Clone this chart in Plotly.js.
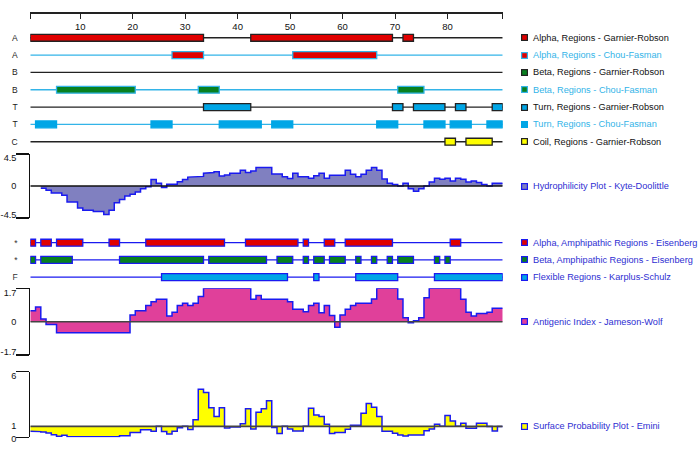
<!DOCTYPE html>
<html><head><meta charset="utf-8">
<script src="https://cdn.plot.ly/plotly-3.0.1.min.js"></script>
<style>html,body{margin:0;padding:0;background:#fff}#chart{width:698px;height:449px}</style>
</head><body><div id="chart"></div>
<script>
// ---------- data ----------
const seqLength = 90;
const rulerTicks = [10, 20, 30, 40, 50, 60, 70, 80];

const trackLabels = ['A', 'A', 'B', 'B', 'T', 'T', 'C'];
const trackNames = [
  'Alpha, Regions - Garnier-Robson',
  'Alpha, Regions - Chou-Fasman',
  'Beta, Regions - Garnier-Robson',
  'Beta, Regions - Chou-Fasman',
  'Turn, Regions - Garnier-Robson',
  'Turn, Regions - Chou-Fasman',
  'Coil, Regions - Garnier-Robson'
];
// [first residue, last residue]
const alphaGR = [[1, 33], [43, 69], [72, 73]];
const alphaCF = [[28, 33], [51, 66]];
const betaGR = [];
const betaCF = [[6, 20], [33, 36], [71, 75]];
const turnGR = [[34, 42], [70, 71], [74, 79], [82, 83], [89, 90]];
const turnCF = [[2, 5], [24, 27], [37, 44], [47, 50], [67, 70], [76, 79], [81, 84], [88, 90]];
const coilGR = [[80, 81], [84, 88]];

const amphiLabels = ['*', '*', 'F'];
const amphiNames = [
  'Alpha, Amphipathic Regions - Eisenberg',
  'Beta, Amphipathic Regions - Eisenberg',
  'Flexible Regions - Karplus-Schulz'
];
const alphaAmphi = [[1, 1], [3, 4], [6, 10], [16, 17], [23, 37], [42, 51], [53, 53], [57, 58], [61, 69], [81, 82]];
const betaAmphi = [[1, 1], [3, 8], [18, 33], [35, 45], [48, 50], [53, 53], [55, 56], [58, 60], [63, 63], [66, 66], [69, 69], [71, 73], [78, 78], [80, 80]];
const flexible = [[26, 49], [55, 55], [63, 70], [78, 90]];

const hydroName = 'Hydrophilicity Plot - Kyte-Doolittle';
const hydroTicks = [-4.5, 0, 4.5];
const hydrophilicity = [null, null, -0.3, -0.6, -1.0, -1.0, -1.3, -2.25, -2.25, -3.1,
  -3.4, -3.4, -3.6, -3.6, -4.0, -3.4, -2.35, -1.9, -1.4, -1.15,
  -0.85, -0.4, -0.1, 0.9, 0.4, -0.2, 0.25, 0.25, 0.6, 0.9,
  1.25, 1.25, 1.35, 1.8, 1.9, 2.0, 1.4, 1.55, 1.8, 1.8,
  2.2, 1.9, 2.1, 2.6, 2.6, 2.6, 1.7, 1.7, 1.3, 1.05,
  1.8, 1.3, 1.3, 1.1, 1.45, 1.8, 1.1, 1.5, 1.5, 1.5,
  2.2, 1.65, 1.3, 1.65, 2.2, 2.6, 2.2, 1.0, 0.4, 0.2,
  0, 0.4, -0.4, -0.75, -0.4, 0, 0.55, 1.1, 0.95, 1.1,
  0.7, 1.1, 0.95, 0.55, 0.7, 0.5, 0.2, 0, 0.4, 0.4];

const antigenName = 'Antigenic Index - Jameson-Wolf';
const antigenTicks = [-1.7, 0, 1.7];
const antigenic = [0.55, 0.75, 0.14, -0.14, -0.14, -0.56, -0.56, -0.56, -0.56, -0.56,
  -0.56, -0.56, -0.56, -0.56, -0.56, -0.56, -0.56, -0.56, -0.56, 0.34,
  0.55, 0.55, 0.82, 1.02, 1.14, 1.14, 0.29, 0.48, 0.82, 0.94,
  0.82, 0.94, 1.28, 1.7, 1.7, 1.7, 1.7, 1.7, 1.7, 1.7,
  1.7, 1.7, 1.14, 1.33, 1.14, 1.14, 1.14, 1.14, 1.14, 1.02,
  0.63, 0.63, 0.51, 0.82, 0.94, 0.46, 0.82, 0.31, -0.29, 0.34,
  0.63, 0.82, 0.94, 0.94, 0.94, 1.16, 1.7, 1.7, 1.7, 1.7,
  1.16, 0.2, -0.05, 0.05, 0.2, 1.22, 1.7, 1.7, 1.7, 1.7,
  1.7, 1.7, 1.14, 0.48, 0.29, 0.41, 0.41, 0.48, 0.68, 0.68];

const surfaceName = 'Surface Probability Plot - Emini';
const surfaceTicks = [0, 1, 6];
const surfaceBase = 1;
const surface = [0.55, 0.52, 0.48, 0.4, 0.24, 0.1, 0.18, 0.05, 0.05, 0.05,
  0.05, 0.05, 0.05, 0.05, 0.05, 0.05, 0.05, 0.15, 0.15, 0.45,
  0.45, 0.68, 0.68, 0.55, 1.0, 0.52, 0.3, 0.55, 0.88, 1.0,
  0.72, 1.6, 4.4, 4.1, 2.7, 1.9, 2.7, 0.85, 0.95, 0.95,
  1.25, 2.6, 0.75, 2.3, 2.6, 3.35, 0.9, 0.35, 1.0, 0.75,
  0.58, 0.58, 1.0, 2.65, 2.05, 1.9, 1.2, 0.35, 0.45, 0.45,
  0.73, 1.1, 1.1, 2.2, 3.1, 2.75, 1.9, 0.55, 0.55, 0.37,
  0.2, 0.12, 0.2, 0.2, 0.2, 0.6, 0.75, 1.2, 1.0, 2.0,
  1.5, 1.0, 1.28, 0.82, 0.82, 1.28, 1.28, 0.98, 0.58, 0.98];

// ---------- styles ----------
const FONT = 'Liberation Sans, Arial, sans-serif';
const RED = '#E00000', GREEN = '#08801F', CYAN = '#00A6E6', YEL = '#FFFF00';
const LBLUE = '#33B4E8', BLK = '#222222', BLUE = '#1A1AF0', TXTBLUE = '#2E2ED2';
const HYD = '#8080C0', ANT = '#E0409A';

const xr = [0.5, seqLength + 0.5];
const traces = [];
const shapes = [];
const annotations = [];

function segTrace(segs, row, yaxis, fill, border, bw) {
  return {
    type: 'bar', orientation: 'h', xaxis: 'x', yaxis: yaxis,
    y: segs.map(() => row),
    x: segs.map(s => s[1] - s[0] + 1),
    base: segs.map(s => s[0] - 0.5),
    width: 0.4,
    marker: {color: fill, line: {color: border, width: bw}},
    hoverinfo: 'skip', showlegend: false
  };
}
function stepXY(vals) {
  const xs = [], ys = [];
  vals.forEach((v, i) => {
    if (v === null) return;
    const r = i + 1;
    xs.push(r - 0.5, r + 0.5);
    ys.push(v, v);
  });
  return {xs, ys};
}
function dummy(yaxis, yv) {
  traces.push({type: 'scatter', x: [xr[0]], y: [yv], xaxis: 'x', yaxis: yaxis, mode: 'markers',
    marker: {opacity: 0}, hoverinfo: 'skip', showlegend: false});
}

// dummy trace for ruler subplot
dummy('y', 0);

// ---------- secondary structure tracks ----------
const trackSpec = [
  {segs: alphaGR, fill: RED, border: BLK, line: BLK, txt: '#111'},
  {segs: alphaCF, fill: RED, border: LBLUE, line: LBLUE, txt: LBLUE},
  {segs: betaGR, fill: GREEN, border: BLK, line: BLK, txt: '#111'},
  {segs: betaCF, fill: GREEN, border: LBLUE, line: LBLUE, txt: LBLUE},
  {segs: turnGR, fill: CYAN, border: BLK, line: BLK, txt: '#111'},
  {segs: turnCF, fill: CYAN, border: CYAN, line: LBLUE, txt: LBLUE},
  {segs: coilGR, fill: YEL, border: BLK, line: BLK, txt: '#111'}
];
trackSpec.forEach((t, row) => {
  shapes.push({type: 'line', xref: 'x', yref: 'y2', x0: xr[0], x1: xr[1], y0: row, y1: row,
    line: {color: t.line, width: 1.3}, layer: 'below'});
  if (t.segs.length) traces.push(segTrace(t.segs, row, 'y2', t.fill, t.border, 1.3));
});

// ---------- amphipathic / flexible tracks ----------
const amphiSpec = [
  {segs: alphaAmphi, fill: RED},
  {segs: betaAmphi, fill: GREEN},
  {segs: flexible, fill: CYAN}
];
amphiSpec.forEach((t, row) => {
  shapes.push({type: 'line', xref: 'x', yref: 'y7', x0: xr[0], x1: xr[1], y0: row, y1: row,
    line: {color: BLUE, width: 1.3}, layer: 'below'});
  traces.push(segTrace(t.segs, row, 'y7', t.fill, BLUE, 1.3));
});

// ---------- hydrophilicity ----------
const h = stepXY(hydrophilicity);
traces.push({type: 'scatter', mode: 'lines', x: h.xs, y: h.ys, xaxis: 'x', yaxis: 'y3',
  fill: 'tozeroy', fillcolor: HYD, line: {color: BLUE, width: 1.5}, hoverinfo: 'skip', showlegend: false});
traces.push({type: 'scatter', mode: 'lines', x: xr, y: [0, 0], xaxis: 'x', yaxis: 'y3',
  line: {color: '#111', width: 1.5}, hoverinfo: 'skip', showlegend: false});

// ---------- antigenic ----------
const a = stepXY(antigenic);
traces.push({type: 'scatter', mode: 'lines', x: a.xs, y: a.ys, xaxis: 'x', yaxis: 'y8',
  fill: 'tozeroy', fillcolor: ANT, line: {color: BLUE, width: 1.5}, hoverinfo: 'skip', showlegend: false});
traces.push({type: 'scatter', mode: 'lines', x: xr, y: [0, 0], xaxis: 'x', yaxis: 'y8',
  line: {color: '#444', width: 1.5}, hoverinfo: 'skip', showlegend: false});

// ---------- surface ----------
const s = stepXY(surface);
traces.push({type: 'scatter', mode: 'lines', x: xr, y: [surfaceBase, surfaceBase], xaxis: 'x', yaxis: 'y12',
  line: {color: 'rgba(0,0,0,0)', width: 0}, hoverinfo: 'skip', showlegend: false});
traces.push({type: 'scatter', mode: 'lines', x: s.xs, y: s.ys, xaxis: 'x', yaxis: 'y12',
  fill: 'tonexty', fillcolor: YEL, line: {color: BLUE, width: 1.5}, hoverinfo: 'skip', showlegend: false});
traces.push({type: 'scatter', mode: 'lines', x: xr, y: [surfaceBase, surfaceBase], xaxis: 'x', yaxis: 'y12',
  line: {color: '#444', width: 1.8}, hoverinfo: 'skip', showlegend: false});

// ---------- legend (annotations tied to the rows) ----------
const LX_SW = 524.5 / 698, LX_TX = 531 / 698;
function legend(yref, yv, name, fill, border, color) {
  annotations.push({xref: 'paper', yref: yref, x: LX_SW, y: yv, xanchor: 'center', yanchor: 'middle',
    text: ' ', showarrow: false, width: 5, height: 5, bgcolor: fill, bordercolor: border,
    borderwidth: 1.2, borderpad: 0, font: {size: 4}});
  annotations.push({xref: 'paper', yref: yref, x: LX_TX, y: yv, xanchor: 'left', yanchor: 'middle',
    text: name, showarrow: false, font: {family: FONT, size: 9.2, color: color}});
}
trackSpec.forEach((t, row) => legend('y2', row, trackNames[row], t.fill, t.border, t.txt));
legend('y3', 0, hydroName, HYD, BLUE, TXTBLUE);
amphiSpec.forEach((t, row) => legend('y7', row, amphiNames[row], t.fill, BLUE, TXTBLUE));
legend('y8', 0, antigenName, ANT, BLUE, TXTBLUE);
legend('y12', surfaceBase, surfaceName, YEL, BLUE, TXTBLUE);

// ---------- axes ----------
const H = 449;
const dom = (top, bottom) => [1 - bottom / H, 1 - top / H];
const tickFont = {family: FONT, size: 9.2, color: '#111'};
const TRANSP = 'rgba(0,0,0,0)';
function baseAx(extra) {
  return Object.assign({anchor: 'x', tickmode: 'array', showgrid: false, zeroline: false,
    fixedrange: true, tickfont: tickFont}, extra);
}
// value panel: main axis (line + middle label), tick-mark overlay, top label, bottom label
function valuePanel(layout, n, d, ticks, midShift, botShift) {
  const range = [ticks[0], ticks[2]];
  const main = 'yaxis' + n, idMain = 'y' + n;
  layout[main] = baseAx({domain: d, range: range, tickvals: [ticks[1]], ticktext: [String(ticks[1])],
    ticks: 'outside', ticklen: 11, tickcolor: TRANSP, showline: true, linecolor: '#111', linewidth: 1.2,
    ticklabelshift: midShift});
  layout['yaxis' + (n + 1)] = baseAx({overlaying: idMain, range: range, tickvals: range,
    ticks: 'outside', ticklen: 13, tickwidth: 1.2, tickcolor: '#111', showticklabels: false, showline: false});
  layout['yaxis' + (n + 2)] = baseAx({overlaying: idMain, range: range, tickvals: [ticks[2]],
    ticktext: [String(ticks[2])], ticks: 'outside', ticklen: 11, tickcolor: TRANSP, showline: false,
    ticklabelshift: 4});
  layout['yaxis' + (n + 3)] = baseAx({overlaying: idMain, range: range, tickvals: [ticks[0]],
    ticktext: [String(ticks[0])], ticks: 'outside', ticklen: 11, tickcolor: TRANSP, showline: false,
    ticklabelshift: botShift});
  for (let k = 1; k <= 3; k++) dummy('y' + (n + k), ticks[1]);
}
function rowAxis(d, n, labels, color, size) {
  return baseAx({domain: d, range: [n - 0.5, -0.5],
    tickvals: labels.map((_, i) => i), ticktext: labels, ticks: 'outside', ticklen: 10,
    tickcolor: TRANSP, showline: false, tickfont: {family: FONT, size: size, color: color}});
}

const layout = {
  width: 698, height: 449,
  margin: {l: 0, r: 0, t: 0, b: 0},
  paper_bgcolor: '#fff', plot_bgcolor: 'rgba(0,0,0,0)',
  barmode: 'overlay', showlegend: false,
  font: {family: FONT, size: 9.2, color: '#111'},
  xaxis: {domain: [30.3 / 698, 502.7 / 698], range: xr, anchor: 'y', side: 'bottom',
    tickmode: 'array', tickvals: [xr[0]].concat(rulerTicks, [xr[1]]),
    ticktext: [''].concat(rulerTicks.map(String), ['']),
    ticks: 'outside', ticklen: 5, tickwidth: 1.2, tickcolor: '#222',
    showline: true, linecolor: '#222', linewidth: 1.2, showgrid: false, zeroline: false,
    tickfont: {family: FONT, size: 9.5, color: '#111'}, fixedrange: true},
  yaxis: {domain: dom(4, 12.3), range: [0, 1], visible: false, fixedrange: true},
  yaxis2: rowAxis(dom(29.1, 150.4), trackLabels.length, trackLabels, '#222', 8.5),
  yaxis7: rowAxis(dom(234.1, 285.7), amphiLabels.length, amphiLabels, '#333', 8.5),
  shapes: shapes,
  annotations: annotations
};
valuePanel(layout, 3, dom(154, 218), hydroTicks, 0, -3);
valuePanel(layout, 8, dom(288.3, 355), antigenTicks, 0, -3);
valuePanel(layout, 12, dom(371.7, 437.3), surfaceTicks, -1, 1);

Plotly.newPlot('chart', traces, layout, {staticPlot: true, displayModeBar: false});
</script>
</body></html>
